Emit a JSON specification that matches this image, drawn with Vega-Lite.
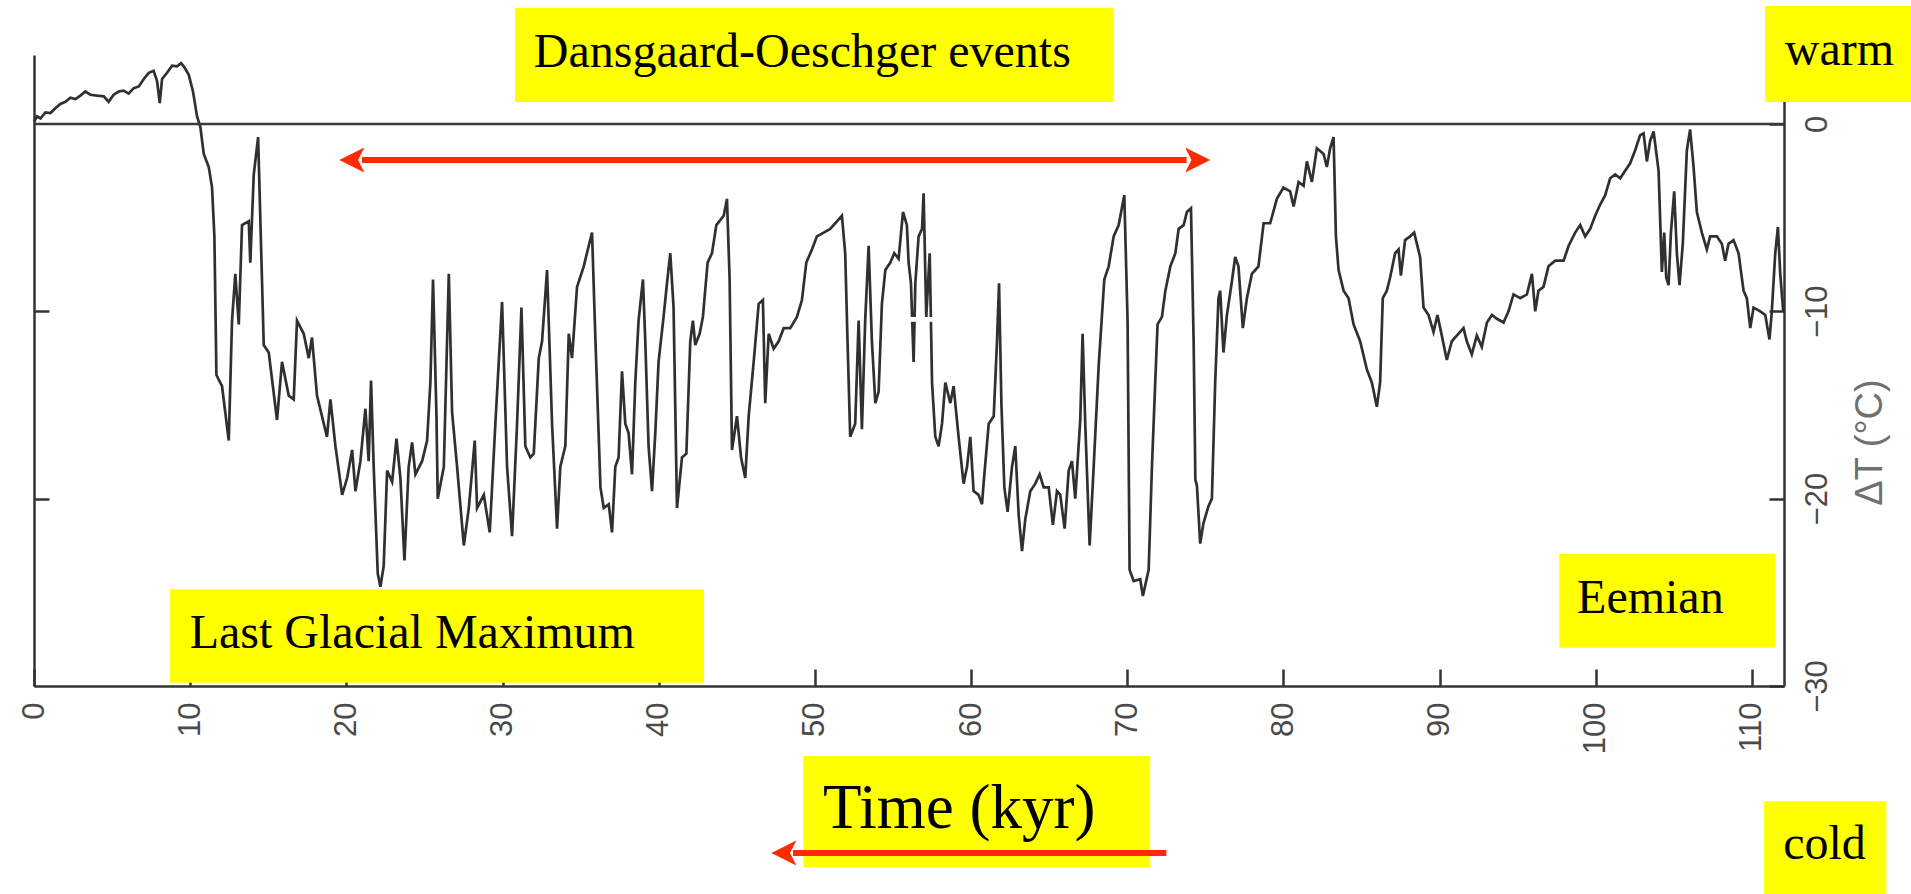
{
  "$schema": "https://vega.github.io/schema/vega-lite/v6.json",
  "width": 1750,
  "height": 631,
  "autosize": {"type": "none"},
  "padding": {"left": 34, "top": 55, "right": 127, "bottom": 208},
  "background": "white",
  "config": {"view": {"stroke": null}, "font": "Liberation Sans"},
  "datasets": {
    "curve": [
      {"kyr": 0.0, "T": 0.13}, {"kyr": 0.2, "T": 0.4}, {"kyr": 0.41, "T": 0.29}, {"kyr": 0.73, "T": 0.62},
      {"kyr": 1.05, "T": 0.58}, {"kyr": 1.37, "T": 0.84}, {"kyr": 1.69, "T": 1.07}, {"kyr": 2.01, "T": 1.18},
      {"kyr": 2.33, "T": 1.4}, {"kyr": 2.65, "T": 1.33}, {"kyr": 2.97, "T": 1.51}, {"kyr": 3.29, "T": 1.73},
      {"kyr": 3.61, "T": 1.56}, {"kyr": 4.04, "T": 1.51}, {"kyr": 4.47, "T": 1.47}, {"kyr": 4.78, "T": 1.18},
      {"kyr": 5.1, "T": 1.56}, {"kyr": 5.42, "T": 1.73}, {"kyr": 5.74, "T": 1.78}, {"kyr": 6.06, "T": 1.62},
      {"kyr": 6.39, "T": 1.91}, {"kyr": 6.71, "T": 2.0}, {"kyr": 7.03, "T": 2.4}, {"kyr": 7.35, "T": 2.73},
      {"kyr": 7.66, "T": 2.84}, {"kyr": 7.88, "T": 2.29}, {"kyr": 8.05, "T": 1.11}, {"kyr": 8.2, "T": 2.4},
      {"kyr": 8.52, "T": 2.73}, {"kyr": 8.84, "T": 3.11}, {"kyr": 9.16, "T": 3.07}, {"kyr": 9.42, "T": 3.24},
      {"kyr": 9.63, "T": 3.02}, {"kyr": 9.91, "T": 2.62}, {"kyr": 10.18, "T": 1.73}, {"kyr": 10.44, "T": 0.4},
      {"kyr": 10.65, "T": -0.15}, {"kyr": 10.87, "T": -1.6}, {"kyr": 11.19, "T": -2.3}, {"kyr": 11.4, "T": -3.4},
      {"kyr": 11.55, "T": -6.0}, {"kyr": 11.68, "T": -13.4}, {"kyr": 12.04, "T": -14.0}, {"kyr": 12.47, "T": -16.9},
      {"kyr": 12.68, "T": -10.5}, {"kyr": 12.89, "T": -8.0}, {"kyr": 13.11, "T": -10.7}, {"kyr": 13.32, "T": -5.4},
      {"kyr": 13.75, "T": -5.2}, {"kyr": 13.85, "T": -7.4}, {"kyr": 14.07, "T": -2.7}, {"kyr": 14.35, "T": -0.7},
      {"kyr": 14.71, "T": -11.8}, {"kyr": 15.03, "T": -12.2}, {"kyr": 15.56, "T": -15.8}, {"kyr": 15.88, "T": -12.7},
      {"kyr": 16.31, "T": -14.5}, {"kyr": 16.63, "T": -14.7}, {"kyr": 16.84, "T": -10.5}, {"kyr": 17.27, "T": -11.2},
      {"kyr": 17.59, "T": -12.5}, {"kyr": 17.8, "T": -11.4}, {"kyr": 18.12, "T": -14.5}, {"kyr": 18.76, "T": -16.7},
      {"kyr": 18.98, "T": -14.7}, {"kyr": 19.3, "T": -17.2}, {"kyr": 19.73, "T": -19.8}, {"kyr": 20.05, "T": -18.9},
      {"kyr": 20.37, "T": -17.4}, {"kyr": 20.58, "T": -19.6}, {"kyr": 20.9, "T": -18.0}, {"kyr": 21.22, "T": -15.2},
      {"kyr": 21.43, "T": -18.0}, {"kyr": 21.58, "T": -13.7}, {"kyr": 21.75, "T": -18.3}, {"kyr": 22.01, "T": -24.0},
      {"kyr": 22.18, "T": -24.7}, {"kyr": 22.39, "T": -23.6}, {"kyr": 22.61, "T": -18.5}, {"kyr": 22.93, "T": -19.1},
      {"kyr": 23.21, "T": -16.8}, {"kyr": 23.46, "T": -18.9}, {"kyr": 23.72, "T": -23.3}, {"kyr": 23.99, "T": -18.3},
      {"kyr": 24.21, "T": -17.0}, {"kyr": 24.42, "T": -18.7}, {"kyr": 24.85, "T": -18.0}, {"kyr": 25.17, "T": -16.9},
      {"kyr": 25.38, "T": -13.8}, {"kyr": 25.55, "T": -8.3}, {"kyr": 25.77, "T": -15.6}, {"kyr": 25.85, "T": -20.0},
      {"kyr": 26.24, "T": -18.3}, {"kyr": 26.56, "T": -8.0}, {"kyr": 26.77, "T": -15.4}, {"kyr": 27.09, "T": -18.3},
      {"kyr": 27.52, "T": -22.5}, {"kyr": 27.84, "T": -20.5}, {"kyr": 28.22, "T": -16.9}, {"kyr": 28.37, "T": -20.5},
      {"kyr": 28.8, "T": -19.8}, {"kyr": 29.18, "T": -21.8}, {"kyr": 29.54, "T": -16.0}, {"kyr": 29.97, "T": -9.5},
      {"kyr": 30.29, "T": -18.3}, {"kyr": 30.61, "T": -22.0}, {"kyr": 30.93, "T": -16.0}, {"kyr": 31.21, "T": -9.8},
      {"kyr": 31.46, "T": -17.2}, {"kyr": 31.78, "T": -17.8}, {"kyr": 32.0, "T": -17.6}, {"kyr": 32.32, "T": -12.5},
      {"kyr": 32.53, "T": -11.6}, {"kyr": 32.85, "T": -7.8}, {"kyr": 33.17, "T": -16.0}, {"kyr": 33.49, "T": -21.6},
      {"kyr": 33.7, "T": -18.3}, {"kyr": 34.02, "T": -17.2}, {"kyr": 34.24, "T": -11.2}, {"kyr": 34.45, "T": -12.5},
      {"kyr": 34.77, "T": -8.7}, {"kyr": 35.2, "T": -7.6}, {"kyr": 35.52, "T": -6.5}, {"kyr": 35.73, "T": -5.8},
      {"kyr": 35.95, "T": -11.6}, {"kyr": 36.27, "T": -19.4}, {"kyr": 36.48, "T": -20.5}, {"kyr": 36.8, "T": -20.3},
      {"kyr": 37.01, "T": -21.8}, {"kyr": 37.22, "T": -18.3}, {"kyr": 37.43, "T": -17.8}, {"kyr": 37.65, "T": -13.2},
      {"kyr": 37.86, "T": -16.0}, {"kyr": 38.07, "T": -16.5}, {"kyr": 38.29, "T": -18.7}, {"kyr": 38.5, "T": -13.8},
      {"kyr": 38.71, "T": -10.5}, {"kyr": 38.99, "T": -8.3}, {"kyr": 39.14, "T": -11.6}, {"kyr": 39.35, "T": -17.2},
      {"kyr": 39.57, "T": -19.6}, {"kyr": 39.78, "T": -16.5}, {"kyr": 39.99, "T": -12.7}, {"kyr": 40.31, "T": -10.3},
      {"kyr": 40.53, "T": -8.5}, {"kyr": 40.74, "T": -6.9}, {"kyr": 40.95, "T": -9.8}, {"kyr": 41.17, "T": -20.5},
      {"kyr": 41.49, "T": -17.8}, {"kyr": 41.77, "T": -17.6}, {"kyr": 42.02, "T": -11.6}, {"kyr": 42.19, "T": -10.5},
      {"kyr": 42.34, "T": -11.8}, {"kyr": 42.62, "T": -11.2}, {"kyr": 42.83, "T": -10.3}, {"kyr": 43.13, "T": -7.4},
      {"kyr": 43.41, "T": -6.9}, {"kyr": 43.69, "T": -5.4}, {"kyr": 44.16, "T": -4.9}, {"kyr": 44.37, "T": -4.0},
      {"kyr": 44.54, "T": -8.3}, {"kyr": 44.69, "T": -17.4}, {"kyr": 45.01, "T": -15.6}, {"kyr": 45.27, "T": -17.8},
      {"kyr": 45.54, "T": -18.9}, {"kyr": 45.76, "T": -15.6}, {"kyr": 46.08, "T": -12.7}, {"kyr": 46.4, "T": -9.6},
      {"kyr": 46.67, "T": -9.4}, {"kyr": 46.82, "T": -14.9}, {"kyr": 47.04, "T": -11.2}, {"kyr": 47.36, "T": -12.0},
      {"kyr": 47.68, "T": -11.6}, {"kyr": 48.0, "T": -10.9}, {"kyr": 48.42, "T": -10.9}, {"kyr": 48.85, "T": -10.3},
      {"kyr": 49.17, "T": -9.4}, {"kyr": 49.45, "T": -7.4}, {"kyr": 49.81, "T": -6.7}, {"kyr": 50.13, "T": -6.0},
      {"kyr": 50.56, "T": -5.8}, {"kyr": 50.98, "T": -5.6}, {"kyr": 51.41, "T": -5.2}, {"kyr": 51.73, "T": -4.9},
      {"kyr": 51.94, "T": -6.9}, {"kyr": 52.09, "T": -11.6}, {"kyr": 52.26, "T": -16.7}, {"kyr": 52.58, "T": -16.0},
      {"kyr": 52.8, "T": -10.5}, {"kyr": 53.01, "T": -16.3}, {"kyr": 53.22, "T": -10.5}, {"kyr": 53.44, "T": -6.5},
      {"kyr": 53.65, "T": -11.6}, {"kyr": 53.87, "T": -14.9}, {"kyr": 54.08, "T": -14.3}, {"kyr": 54.29, "T": -9.6},
      {"kyr": 54.51, "T": -7.8}, {"kyr": 54.83, "T": -7.4}, {"kyr": 55.08, "T": -6.9}, {"kyr": 55.36, "T": -7.2},
      {"kyr": 55.64, "T": -4.7}, {"kyr": 55.89, "T": -5.4}, {"kyr": 56.0, "T": -7.4}, {"kyr": 56.15, "T": -8.5},
      {"kyr": 56.32, "T": -12.7}, {"kyr": 56.43, "T": -8.5}, {"kyr": 56.64, "T": -6.0}, {"kyr": 56.86, "T": -5.6},
      {"kyr": 56.96, "T": -3.7}, {"kyr": 57.13, "T": -10.3}, {"kyr": 57.35, "T": -6.9}, {"kyr": 57.5, "T": -13.8},
      {"kyr": 57.71, "T": -16.7}, {"kyr": 57.92, "T": -17.2}, {"kyr": 58.14, "T": -16.0}, {"kyr": 58.35, "T": -13.8},
      {"kyr": 58.67, "T": -14.9}, {"kyr": 58.88, "T": -14.0}, {"kyr": 59.2, "T": -16.7}, {"kyr": 59.52, "T": -19.2},
      {"kyr": 59.74, "T": -18.3}, {"kyr": 59.95, "T": -16.7}, {"kyr": 60.16, "T": -19.6}, {"kyr": 60.48, "T": -19.8},
      {"kyr": 60.7, "T": -20.3}, {"kyr": 60.8, "T": -19.2}, {"kyr": 61.13, "T": -16.0}, {"kyr": 61.45, "T": -15.6},
      {"kyr": 61.66, "T": -11.6}, {"kyr": 61.79, "T": -8.5}, {"kyr": 61.94, "T": -14.9}, {"kyr": 62.13, "T": -19.4},
      {"kyr": 62.34, "T": -20.7}, {"kyr": 62.62, "T": -18.3}, {"kyr": 62.83, "T": -17.2}, {"kyr": 63.05, "T": -20.9},
      {"kyr": 63.26, "T": -22.8}, {"kyr": 63.47, "T": -21.1}, {"kyr": 63.79, "T": -19.6}, {"kyr": 64.11, "T": -19.2},
      {"kyr": 64.39, "T": -18.7}, {"kyr": 64.65, "T": -19.4}, {"kyr": 64.97, "T": -19.4}, {"kyr": 65.24, "T": -21.4},
      {"kyr": 65.5, "T": -19.6}, {"kyr": 65.71, "T": -19.8}, {"kyr": 65.99, "T": -21.6}, {"kyr": 66.25, "T": -18.5},
      {"kyr": 66.46, "T": -18.0}, {"kyr": 66.67, "T": -20.0}, {"kyr": 66.99, "T": -15.8}, {"kyr": 67.14, "T": -11.2},
      {"kyr": 67.31, "T": -16.0}, {"kyr": 67.59, "T": -22.5}, {"kyr": 67.85, "T": -18.3}, {"kyr": 68.17, "T": -12.9},
      {"kyr": 68.53, "T": -8.3}, {"kyr": 68.81, "T": -7.6}, {"kyr": 69.13, "T": -6.0}, {"kyr": 69.45, "T": -5.4},
      {"kyr": 69.81, "T": -3.8}, {"kyr": 70.02, "T": -10.5}, {"kyr": 70.15, "T": -23.8}, {"kyr": 70.41, "T": -24.4},
      {"kyr": 70.83, "T": -24.3}, {"kyr": 71.0, "T": -25.2}, {"kyr": 71.37, "T": -23.8}, {"kyr": 71.58, "T": -18.3},
      {"kyr": 71.79, "T": -13.8}, {"kyr": 71.94, "T": -10.7}, {"kyr": 72.22, "T": -10.3}, {"kyr": 72.44, "T": -8.9},
      {"kyr": 72.76, "T": -7.6}, {"kyr": 73.08, "T": -6.9}, {"kyr": 73.29, "T": -5.6}, {"kyr": 73.61, "T": -5.4},
      {"kyr": 73.82, "T": -4.7}, {"kyr": 74.08, "T": -4.5}, {"kyr": 74.25, "T": -11.6}, {"kyr": 74.36, "T": -19.0},
      {"kyr": 74.46, "T": -19.3}, {"kyr": 74.67, "T": -22.4}, {"kyr": 74.88, "T": -21.3}, {"kyr": 75.2, "T": -20.4},
      {"kyr": 75.42, "T": -20.0}, {"kyr": 75.63, "T": -13.8}, {"kyr": 75.84, "T": -9.3}, {"kyr": 75.95, "T": -8.9},
      {"kyr": 76.16, "T": -12.2}, {"kyr": 76.38, "T": -10.2}, {"kyr": 76.7, "T": -8.4}, {"kyr": 76.91, "T": -7.1},
      {"kyr": 77.12, "T": -7.6}, {"kyr": 77.4, "T": -10.9}, {"kyr": 77.66, "T": -9.3}, {"kyr": 77.98, "T": -8.0},
      {"kyr": 78.4, "T": -7.6}, {"kyr": 78.73, "T": -5.3}, {"kyr": 79.15, "T": -5.3}, {"kyr": 79.58, "T": -4.0},
      {"kyr": 80.0, "T": -3.4}, {"kyr": 80.43, "T": -3.6}, {"kyr": 80.65, "T": -4.4}, {"kyr": 80.97, "T": -3.1},
      {"kyr": 81.29, "T": -3.3}, {"kyr": 81.5, "T": -2.0}, {"kyr": 81.82, "T": -3.1}, {"kyr": 82.14, "T": -1.3},
      {"kyr": 82.57, "T": -1.6}, {"kyr": 82.78, "T": -2.3}, {"kyr": 82.99, "T": -1.3}, {"kyr": 83.21, "T": -0.7},
      {"kyr": 83.36, "T": -6.0}, {"kyr": 83.53, "T": -7.8}, {"kyr": 83.85, "T": -8.9}, {"kyr": 84.17, "T": -9.3},
      {"kyr": 84.49, "T": -10.7}, {"kyr": 84.91, "T": -11.6}, {"kyr": 85.34, "T": -13.1}, {"kyr": 85.66, "T": -13.8},
      {"kyr": 85.98, "T": -15.1}, {"kyr": 86.19, "T": -13.8}, {"kyr": 86.36, "T": -9.3}, {"kyr": 86.62, "T": -8.9},
      {"kyr": 86.83, "T": -8.2}, {"kyr": 87.15, "T": -6.9}, {"kyr": 87.37, "T": -6.7}, {"kyr": 87.52, "T": -8.1},
      {"kyr": 87.79, "T": -6.2}, {"kyr": 88.11, "T": -6.0}, {"kyr": 88.37, "T": -5.8}, {"kyr": 88.75, "T": -7.1},
      {"kyr": 88.97, "T": -9.8}, {"kyr": 89.29, "T": -10.2}, {"kyr": 89.61, "T": -11.1}, {"kyr": 89.86, "T": -10.2},
      {"kyr": 90.14, "T": -11.3}, {"kyr": 90.46, "T": -12.6}, {"kyr": 90.78, "T": -11.6}, {"kyr": 91.1, "T": -11.3},
      {"kyr": 91.53, "T": -10.9}, {"kyr": 91.74, "T": -11.6}, {"kyr": 92.06, "T": -12.3}, {"kyr": 92.38, "T": -11.3},
      {"kyr": 92.7, "T": -11.9}, {"kyr": 93.03, "T": -10.6}, {"kyr": 93.35, "T": -10.2}, {"kyr": 93.67, "T": -10.4},
      {"kyr": 94.09, "T": -10.6}, {"kyr": 94.41, "T": -10.0}, {"kyr": 94.73, "T": -9.1}, {"kyr": 95.16, "T": -9.3},
      {"kyr": 95.59, "T": -9.1}, {"kyr": 95.91, "T": -8.0}, {"kyr": 96.12, "T": -10.0}, {"kyr": 96.33, "T": -8.9},
      {"kyr": 96.65, "T": -8.7}, {"kyr": 96.97, "T": -7.6}, {"kyr": 97.4, "T": -7.3}, {"kyr": 97.94, "T": -7.3},
      {"kyr": 98.26, "T": -6.5}, {"kyr": 98.68, "T": -5.8}, {"kyr": 99.0, "T": -5.4}, {"kyr": 99.32, "T": -6.0},
      {"kyr": 99.64, "T": -5.6}, {"kyr": 99.96, "T": -4.9}, {"kyr": 100.28, "T": -4.3}, {"kyr": 100.6, "T": -3.8},
      {"kyr": 100.92, "T": -2.9}, {"kyr": 101.24, "T": -2.7}, {"kyr": 101.56, "T": -2.9}, {"kyr": 101.88, "T": -2.5},
      {"kyr": 102.2, "T": -2.1}, {"kyr": 102.52, "T": -1.4}, {"kyr": 102.84, "T": -0.6}, {"kyr": 103.06, "T": -0.5},
      {"kyr": 103.27, "T": -2.0}, {"kyr": 103.48, "T": -0.9}, {"kyr": 103.7, "T": -0.4}, {"kyr": 104.02, "T": -2.5},
      {"kyr": 104.23, "T": -7.9}, {"kyr": 104.38, "T": -5.8}, {"kyr": 104.51, "T": -8.2}, {"kyr": 104.66, "T": -8.6},
      {"kyr": 104.81, "T": -5.8}, {"kyr": 105.02, "T": -3.6}, {"kyr": 105.19, "T": -6.9}, {"kyr": 105.36, "T": -8.6},
      {"kyr": 105.57, "T": -6.4}, {"kyr": 105.83, "T": -1.4}, {"kyr": 106.04, "T": -0.3}, {"kyr": 106.26, "T": -2.3},
      {"kyr": 106.47, "T": -4.7}, {"kyr": 106.79, "T": -5.8}, {"kyr": 107.11, "T": -6.7}, {"kyr": 107.32, "T": -6.0},
      {"kyr": 107.75, "T": -6.0}, {"kyr": 108.07, "T": -6.4}, {"kyr": 108.28, "T": -7.3}, {"kyr": 108.5, "T": -6.4},
      {"kyr": 108.82, "T": -6.2}, {"kyr": 109.14, "T": -6.9}, {"kyr": 109.46, "T": -8.9}, {"kyr": 109.67, "T": -9.3},
      {"kyr": 109.89, "T": -10.9}, {"kyr": 110.1, "T": -9.8}, {"kyr": 110.53, "T": -10.0}, {"kyr": 110.85, "T": -10.2},
      {"kyr": 111.12, "T": -11.5}, {"kyr": 111.27, "T": -10.0}, {"kyr": 111.49, "T": -6.9}, {"kyr": 111.66, "T": -5.5},
      {"kyr": 111.81, "T": -8.0}, {"kyr": 112.0, "T": -10.0}
    ],
    "zero": [{"kyr": 0, "kyr2": 112.05, "T": 0}],
    "boxes": [
      {"kyr": 30.8, "kyr2": 69.1, "T": 6.2, "T2": 1.17},
      {"kyr": 110.84, "kyr2": 121, "T": 6.3, "T2": 1.17},
      {"kyr": 8.71, "kyr2": 42.89, "T": -24.84, "T2": -29.83},
      {"kyr": 97.66, "kyr2": 111.49, "T": -22.96, "T2": -27.96},
      {"kyr": 49.26, "kyr2": 71.47, "T": -33.74, "T2": -39.67},
      {"kyr": 110.78, "kyr2": 118.6, "T": -36.15, "T2": -41.5}
    ],
    "notes": [
      {"kyr": 32.0, "T": 3.04, "text": "Dansgaard-Oeschger events"},
      {"kyr": 112.1, "T": 3.15, "text": "warm"},
      {"kyr": 9.97, "T": -27.98, "text": "Last Glacial Maximum"},
      {"kyr": 98.8, "T": -26.11, "text": "Eemian"},
      {"kyr": 112.0, "T": -39.24, "text": "cold"}
    ],
    "axisnote": [{"kyr": 50.52, "T": -37.59, "text": "Time (kyr)"}],
    "ghost": [{"kyr": 55.92, "T": -12.76, "text": "Te"}],
    "arrowLines": [
      {"kyr": 21.0, "kyr2": 73.8, "T": -1.92},
      {"kyr": 48.6, "kyr2": 72.5, "T": -38.92}
    ],
    "arrowHeads": [
      {"kyr": 20.35, "T": -1.92, "dir": "left"},
      {"kyr": 74.51, "T": -1.92, "dir": "right"},
      {"kyr": 48.01, "T": -38.92, "dir": "left"}
    ]
  },
  "layer": [
    {
      "data": {"name": "curve"},
      "mark": {"type": "line", "stroke": "#303030", "strokeWidth": 2.7, "clip": false},
      "encoding": {
        "x": {"field": "kyr", "type": "quantitative", "scale": {"domain": [0, 112.05], "nice": false, "zero": false},
          "axis": {"values": [0, 10, 20, 30, 40, 50, 60, 70, 80, 90, 100, 110], "title": null, "grid": false,
            "domainColor": "#333", "domainWidth": 2.5, "tickColor": "#333", "tickWidth": 2.5, "tickSize": -17,
            "labelAngle": -90, "labelFontSize": 31, "labelColor": "#4a4a4a", "labelFont": "Liberation Sans",
            "labelPadding": 33, "labelFlush": false, "labelOverlap": false}},
        "y": {"field": "T", "type": "quantitative", "scale": {"domain": [-30, 3.68], "nice": false, "zero": false},
          "axis": {"orient": "left", "values": [-20, -10], "labels": false, "title": null, "grid": false,
            "domainColor": "#333", "domainWidth": 2.5, "tickColor": "#333", "tickWidth": 2.5, "tickSize": -15}}
      }
    },
    {
      "data": {"name": "zero"},
      "mark": {"type": "rule", "stroke": "#3a3a3a", "strokeWidth": 2.4},
      "encoding": {
        "x": {"field": "kyr", "type": "quantitative", "scale": {"domain": [0, 112.05], "nice": false, "zero": false}, "axis": null},
        "x2": {"field": "kyr2"},
        "y": {"field": "T", "type": "quantitative", "scale": {"domain": [-30, 3.68], "nice": false, "zero": false},
          "axis": {"orient": "right", "values": [0, -10, -20, -30], "grid": false,
            "domainColor": "#333", "domainWidth": 2.5, "tickColor": "#333", "tickWidth": 2.5, "tickSize": -15,
            "labelAngle": -90, "labelFontSize": 31, "labelColor": "#4a4a4a", "labelFont": "Liberation Sans",
            "labelPadding": 33, "labelFlush": false, "labelOverlap": false,
            "title": "ΔT (°C)", "titleAngle": 270, "titleFontSize": 38, "titleFontWeight": "normal",
            "titleColor": "#707070", "titleFont": "Liberation Sans", "titleX": 86, "titleY": 387,
            "titleAlign": "center", "titleBaseline": "middle"}}
      }
    },
    {
      "data": {"name": "boxes"},
      "mark": {"type": "rect", "fill": "#ffff00", "clip": false},
      "encoding": {
        "x": {"field": "kyr", "type": "quantitative", "scale": {"domain": [0, 112.05], "nice": false, "zero": false}, "axis": null},
        "x2": {"field": "kyr2"},
        "y": {"field": "T", "type": "quantitative", "scale": {"domain": [-30, 3.68], "nice": false, "zero": false}, "axis": null},
        "y2": {"field": "T2"}
      }
    },
    {
      "data": {"name": "notes"},
      "mark": {"type": "text", "font": "Liberation Serif", "fontSize": 48, "align": "left", "baseline": "alphabetic", "color": "#000000"},
      "encoding": {
        "x": {"field": "kyr", "type": "quantitative", "scale": {"domain": [0, 112.05], "nice": false, "zero": false}, "axis": null},
        "y": {"field": "T", "type": "quantitative", "scale": {"domain": [-30, 3.68], "nice": false, "zero": false}, "axis": null},
        "text": {"field": "text"}
      }
    },
    {
      "data": {"name": "axisnote"},
      "mark": {"type": "text", "font": "Liberation Serif", "fontSize": 63, "align": "left", "baseline": "alphabetic", "color": "#000000"},
      "encoding": {
        "x": {"field": "kyr", "type": "quantitative", "scale": {"domain": [0, 112.05], "nice": false, "zero": false}, "axis": null},
        "y": {"field": "T", "type": "quantitative", "scale": {"domain": [-30, 3.68], "nice": false, "zero": false}, "axis": null},
        "text": {"field": "text"}
      }
    },
    {
      "data": {"name": "ghost"},
      "mark": {"type": "text", "font": "Open Sans", "fontSize": 64, "align": "left", "baseline": "alphabetic", "color": "#ffffff"},
      "encoding": {
        "x": {"field": "kyr", "type": "quantitative", "scale": {"domain": [0, 112.05], "nice": false, "zero": false}, "axis": null},
        "y": {"field": "T", "type": "quantitative", "scale": {"domain": [-30, 3.68], "nice": false, "zero": false}, "axis": null},
        "text": {"field": "text"}
      }
    },
    {
      "data": {"name": "arrowLines"},
      "mark": {"type": "rule", "stroke": "#ff2a00", "strokeWidth": 6},
      "encoding": {
        "x": {"field": "kyr", "type": "quantitative", "scale": {"domain": [0, 112.05], "nice": false, "zero": false}, "axis": null},
        "x2": {"field": "kyr2"},
        "y": {"field": "T", "type": "quantitative", "scale": {"domain": [-30, 3.68], "nice": false, "zero": false}, "axis": null}
      }
    },
    {
      "data": {"name": "arrowHeads"},
      "mark": {"type": "point", "filled": true, "fill": "#ff2a00", "strokeWidth": 0, "opacity": 1, "size": 625},
      "encoding": {
        "x": {"field": "kyr", "type": "quantitative", "scale": {"domain": [0, 112.05], "nice": false, "zero": false}, "axis": null},
        "y": {"field": "T", "type": "quantitative", "scale": {"domain": [-30, 3.68], "nice": false, "zero": false}, "axis": null},
        "shape": {"field": "dir", "type": "nominal", "legend": null,
          "scale": {"domain": ["left", "right"], "range": ["M-1,0L1,-1L0.5,0L1,1Z", "M1,0L-1,-1L-0.5,0L-1,1Z"]}}
      }
    }
  ],
  "resolve": {"axis": {"y": "independent", "x": "independent"}}
}
